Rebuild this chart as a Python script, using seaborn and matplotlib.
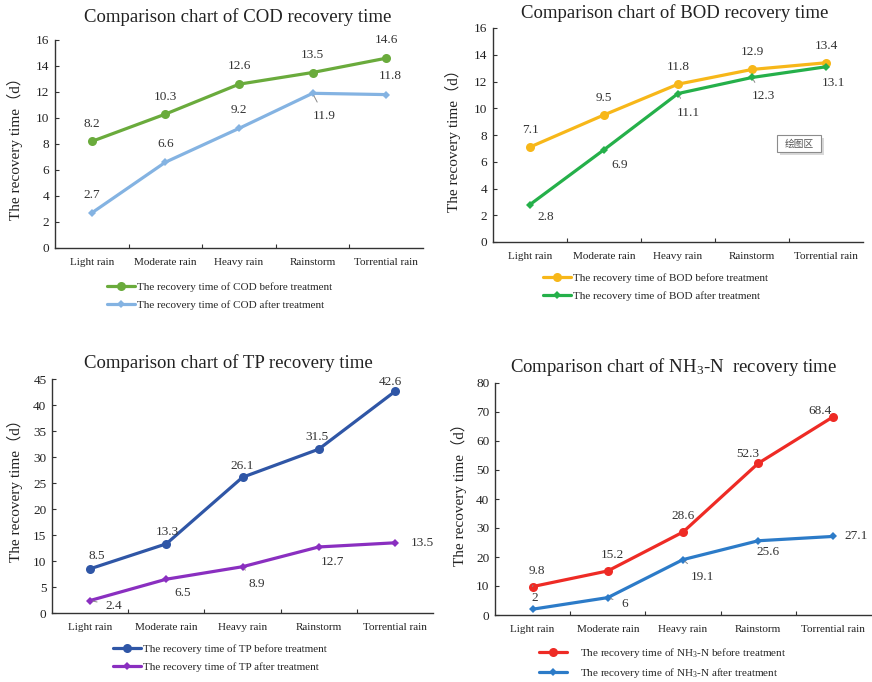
import numpy as np
import pandas as pd
import matplotlib
matplotlib.use("Agg")
import matplotlib.pyplot as plt
from matplotlib.patches import Rectangle
import seaborn as sns

sns.set_theme(style="white")
plt.rcParams["font.family"] = ["Liberation Serif", "Noto Sans CJK SC", "DejaVu Sans"]
plt.rcParams["mathtext.fontset"] = "custom"
plt.rcParams["mathtext.rm"] = "Liberation Serif"
plt.rcParams["mathtext.it"] = "Liberation Serif:italic"

# ---- data -------------------------------------------------------------
rain_types = ["Light rain", "Moderate rain", "Heavy rain", "Rainstorm", "Torrential rain"]

cod_before = [8.2, 10.3, 12.6, 13.5, 14.6]
cod_after = [2.7, 6.6, 9.2, 11.9, 11.8]

bod_before = [7.1, 9.5, 11.8, 12.9, 13.4]
bod_after = [2.8, 6.9, 11.1, 12.3, 13.1]

tp_before = [8.5, 13.3, 26.1, 31.5, 42.6]
tp_after = [2.4, 6.5, 8.9, 12.7, 13.5]

nh3_before = [9.8, 15.2, 28.6, 52.3, 68.4]
nh3_after = [2, 6, 19.1, 25.6, 27.1]

W, H = 872, 682
fig = plt.figure(figsize=(W / 100, H / 100), dpi=100)


def px_rect(x0, x1, ytop, ybot):
    return [x0 / W, 1 - ybot / H, (x1 - x0) / W, (ybot - ytop) / H]


def fig_xy(x, y):
    return x / W, 1 - y / H


def fmt(v):
    return f"{v:g}"


def draw_panel(rect, before, after, colors, ymax, ystep,
               title, title_xy, ylab_xy, leg_xy, off_before, off_after,
               leg_names, leg_spacing=0.75, leg_pad=0.2):
    ax = fig.add_axes(rect)
    df_b = pd.DataFrame({"rain": rain_types, "days": before})
    df_a = pd.DataFrame({"rain": rain_types, "days": after})
    sns.lineplot(data=df_b, x="rain", y="days", ax=ax, color=colors[0],
                 marker="o", markersize=6.5, markeredgewidth=0, linewidth=2.3,
                 label=leg_names[0])
    sns.lineplot(data=df_a, x="rain", y="days", ax=ax, color=colors[1],
                 marker="D", markersize=4.5, markeredgewidth=0, linewidth=2.3,
                 label=leg_names[1])
    ax.set_xlim(-0.5, len(rain_types) - 0.5)
    ax.set_ylim(0, ymax)
    ax.set_yticks(np.arange(0, ymax + ystep / 2, ystep))
    ax.set_xlabel("")
    ax.set_ylabel("")
    for s in ["top", "right"]:
        ax.spines[s].set_visible(False)
    for s in ["left", "bottom"]:
        ax.spines[s].set_color("#333333")
        ax.spines[s].set_linewidth(1.0)
    ax.tick_params(axis="y", which="major", direction="in", length=3,
                   width=0.8, color="#333333", labelsize=9.5, pad=4,
                   left=True, labelcolor="#222222")
    ax.tick_params(axis="x", which="major", length=0, labelsize=8, pad=7,
                   labelcolor="#222222")
    ax.set_xticks(np.arange(0.5, len(rain_types) - 0.5), minor=True)
    ax.tick_params(axis="x", which="minor", direction="in", length=3,
                   width=0.8, color="#333333", bottom=True)

    for series, offs in ((before, off_before), (after, off_after)):
        for i, (v, (dx, dy, lead)) in enumerate(zip(series, offs)):
            kw = {}
            if lead:
                kw["arrowprops"] = dict(arrowstyle="-", color="#888888", lw=0.7,
                                        shrinkA=4, shrinkB=2)
            ax.annotate(fmt(v), (i, v), xytext=(dx, -dy),
                        textcoords="offset pixels", ha="center", va="center",
                        fontsize=9.5, color="#333333", **kw)

    fig.text(*fig_xy(*title_xy), title, ha="center", va="center",
             fontsize=13.5, color="#222222")
    fig.text(*fig_xy(*ylab_xy), "The recovery time（d）", rotation=90,
             ha="center", va="center", fontsize=11, color="#222222")
    ax.legend(loc="upper left", bbox_to_anchor=fig_xy(*leg_xy),
              bbox_transform=fig.transFigure, frameon=False, fontsize=8,
              handlelength=2.5, handletextpad=leg_pad, borderpad=0,
              borderaxespad=0, labelspacing=leg_spacing)
    return ax


# COD
draw_panel(px_rect(55, 423, 40, 248), cod_before, cod_after,
           ("#6aab3c", "#84b3e2"), 16, 2,
           "Comparison chart of COD recovery time", (238, 17), (15, 145),
           (107, 282),
           [(0, -17, False), (0, -17, False), (0, -18, False), (0, -18, False), (0, -18, False)],
           [(0, -18, False), (0, -18, False), (0, -18, False), (12, 23, True), (4, -19, False)],
           ("The recovery time of COD before treatment",
            "The recovery time of COD after treatment"))

# BOD
draw_panel(px_rect(493, 863, 28, 242), bod_before, bod_after,
           ("#f7b719", "#25b04a"), 16, 2,
           "Comparison chart of BOD recovery time", (675, 13), (453, 137),
           (543, 273),
           [(0, -17, False), (0, -17, False), (0, -17, False), (0, -17, False), (0, -17, False)],
           [(16, 12, False), (16, 15, False), (10, 19, True), (11, 19, True), (7, 16, False)],
           ("The recovery time of BOD before treatment",
            "The recovery time of BOD after treatment"))

# plot-area tooltip box
fig.patches.append(Rectangle(fig_xy(780, 155), 44 / W, 17 / H,
                             transform=fig.transFigure, facecolor="#d9d9d9",
                             edgecolor="none", zorder=5))
fig.patches.append(Rectangle(fig_xy(777, 152), 44 / W, 17 / H,
                             transform=fig.transFigure, facecolor="white",
                             edgecolor="#8c8c8c", linewidth=0.8, zorder=6))
fig.text(*fig_xy(799, 143.5), "绘图区", ha="center", va="center",
         fontsize=7, color="#555555", family=["Noto Sans CJK SC"], zorder=7)

# TP
draw_panel(px_rect(52, 433, 379, 613), tp_before, tp_after,
           ("#2f56a6", "#8a2fc0"), 45, 5,
           "Comparison chart of TP recovery time", (228, 363), (15, 487),
           (113, 644),
           [(7, -13, False), (1, -12, False), (0, -11, False), (-2, -12, False), (-5, -9, False)],
           [(24, 5, True), (16, 14, False), (14, 17, True), (14, 15, False), (27, 0, False)],
           ("The recovery time of TP before treatment",
            "The recovery time of TP after treatment"))

# NH3-N
draw_panel(px_rect(495, 871, 383, 615), nh3_before, nh3_after,
           ("#ee2b25", "#2c7bc8"), 80, 10,
           "Comparison chart of NH$_3$-N  recovery time", (674, 367), (459, 491),
           (539, 646),
           [(4, -16, True), (5, -16, False), (0, -16, False), (-10, -9, False), (-13, -6, False)],
           [(2, -11, False), (17, 6, True), (19, 17, True), (10, 11, False), (23, 0, False)],
           ("The recovery time of NH$_3$-N before treatment",
            "The recovery time of NH$_3$-N after treatment"),
           leg_spacing=0.55, leg_pad=1.2)

fig.savefig("out.png", dpi=100, facecolor="white")
